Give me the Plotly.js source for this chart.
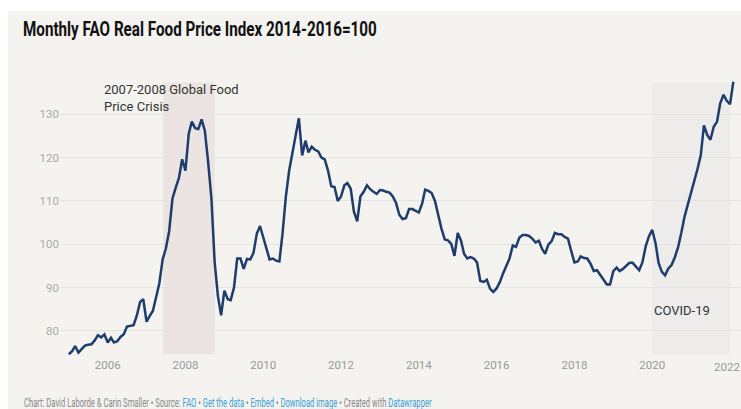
<!DOCTYPE html>
<html>
<head>
<meta charset="utf-8">
<script src="https://cdn.plot.ly/plotly-3.0.1.min.js"></script>
<style>
  html, body { margin: 0; padding: 0; background: #ffffff; }
  #bg { position: absolute; left: 8px; top: 11px; width: 733px; height: 398px; background: #f4f3f0; }
  #chart { position: absolute; left: 0; top: 0; width: 741px; height: 409px; }
</style>
</head>
<body>
<div id="bg"></div>
<div id="chart"></div>
<script>
// Monthly series, first value = January 2005, last = February 2022
const startYear = 2005;
const startMonth = 1;
const indexValues = [
  74.6, 75.3, 76.5, 75.0, 75.8, 76.6, 76.8, 76.9, 77.8, 79.0, 78.5, 79.2,
  77.3, 78.4, 77.3, 77.6, 78.6, 79.2, 81.0, 81.1, 81.3, 83.5, 86.7, 87.3,
  82.1, 83.5, 84.6, 87.8, 91.0, 96.5, 99.0, 103.0, 110.5, 113.0, 115.3, 119.6,
  117.0, 125.5, 128.3, 126.8, 126.6, 128.8, 126.2, 119.0, 110.5, 96.0, 88.0, 83.6,
  89.3, 87.3, 87.1, 90.0, 96.7, 96.7, 94.3, 96.6, 96.5, 98.0, 102.4, 104.2,
  101.5, 98.7, 96.5, 96.7, 96.2, 96.0, 102.5, 111.0, 117.0, 121.0, 125.0, 129.1,
  120.5, 123.9, 121.2, 122.5, 121.8, 121.4, 120.0, 119.6, 117.0, 113.4, 113.2, 110.0,
  111.0, 113.6, 114.1, 112.8, 107.5, 105.3, 111.0, 112.1, 113.6, 112.7, 112.1, 111.6,
  112.5, 112.4, 112.1, 111.9, 111.0, 109.5, 106.8, 105.8, 106.0, 108.1, 108.1, 107.7,
  107.3, 109.4, 112.6, 112.3, 111.8, 110.0, 106.8, 103.6, 101.1, 100.9, 100.1, 97.3,
  102.6, 100.8, 97.8, 96.7, 97.0, 96.7, 95.8, 91.5, 91.3, 91.8, 89.7, 89.0,
  89.8, 91.3, 93.2, 94.8, 96.7, 99.7, 99.4, 101.5, 102.1, 102.1, 101.9, 101.3,
  100.4, 100.8, 99.0, 97.8, 99.9, 100.7, 102.6, 102.3, 102.3, 101.7, 101.3, 98.5,
  95.8, 96.0, 97.2, 96.8, 96.7, 95.5, 93.8, 94.0, 92.8, 91.6, 90.7, 90.7,
  93.8, 94.6, 93.8, 94.3, 94.9, 95.7, 95.7, 94.8, 94.0, 95.8, 99.5, 101.8,
  103.3, 100.3, 95.7, 93.6, 92.8, 94.4, 95.2, 97.0, 99.4, 102.7, 106.5, 109.2,
  112.0, 114.5, 117.3, 120.5, 127.4, 125.2, 124.1, 127.1, 128.3, 132.5, 134.5, 133.1,
  132.3, 137.5
];
const yTicks = [80, 90, 100, 110, 120, 130];
const xTickYears = ['2006', '2008', '2010', '2012', '2014', '2016', '2018', '2020'];
const lastYearLabel = '2022';   // sits at the right edge; drawn right-aligned inside the frame
const crisisPeriod = ['2007-06-06', '2008-10-02'];
const covidPeriod = ['2019-12-28', '2022-01-01'];

const months = indexValues.map((_, i) => {
  const t = (startMonth - 1) + i;
  const y = startYear + Math.floor(t / 12);
  const m = (t % 12) + 1;
  return y + '-' + String(m).padStart(2, '0') + '-01';
});

const shadeLow = Math.min(...indexValues);
const shadeHigh = Math.max(...indexValues) - 0.2;

const tickFont = { family: 'Roboto, sans-serif', size: 11.5, color: '#999999' };

const trace = {
  type: 'scatter',
  mode: 'lines',
  x: months,
  y: indexValues,
  line: { color: '#1f3d6c', width: 2.5 },
  hoverinfo: 'skip'
};

const layout = {
  width: 741,
  height: 409,
  autosize: false,
  margin: { l: 60, r: 0, t: 80, b: 53 },
  paper_bgcolor: 'rgba(0,0,0,0)',
  plot_bgcolor: 'rgba(0,0,0,0)',
  showlegend: false,
  title: {
    text: '<b>Monthly FAO Real Food Price Index 2014-2016=100</b>',
    x: 23 / 741, xanchor: 'left', xref: 'container',
    y: 1 - 28.5 / 409, yanchor: 'middle', yref: 'container',
    font: { family: 'Roboto, sans-serif', size: 21, color: '#111111' }
  },
  xaxis: {
    type: 'date',
    range: ['2004-10-10', '2022-04-14'],
    tickvals: xTickYears.map(y => y + '-01-01'),
    ticktext: xTickYears,
    showgrid: false, zeroline: false, showline: false,
    ticks: '',
    tickfont: tickFont
  },
  yaxis: {
    range: [74.2, 137.9],
    tickvals: yTicks,
    showgrid: true, gridcolor: '#e4e3e0', gridwidth: 1,
    zeroline: false, showline: false, ticks: '',
    tickfont: { family: 'Roboto, sans-serif', size: 11.5, color: '#aaaaaa' }
  },
  shapes: [
    { type: 'rect', xref: 'x', yref: 'y', x0: crisisPeriod[0], x1: crisisPeriod[1],
      y0: shadeLow, y1: shadeHigh, fillcolor: '#ece4e2', line: { width: 0 }, layer: 'below' },
    { type: 'rect', xref: 'x', yref: 'y', x0: covidPeriod[0], x1: covidPeriod[1],
      y0: shadeLow, y1: shadeHigh, fillcolor: '#edecea', line: { width: 0 }, layer: 'below' }
  ],
  annotations: [
    { text: '2007-2008 Global Food<br>Price Crisis', xref: 'paper', yref: 'paper',
      x: (102 - 60) / 681, y: (356 - 98) / 276, xanchor: 'left', yanchor: 'middle',
      align: 'left', showarrow: false,
      font: { family: 'Roboto, sans-serif', size: 13, color: '#333333' } },
    { text: 'COVID-19', xref: 'paper', yref: 'paper',
      x: (651.5 - 60) / 681, y: (356 - 310) / 276, xanchor: 'left', yanchor: 'middle',
      align: 'left', showarrow: false,
      font: { family: 'Roboto, sans-serif', size: 13, color: '#333333' } },
    { text: lastYearLabel, xref: 'paper', yref: 'paper',
      x: 1, y: (356 - 366.5) / 276, xanchor: 'right', yanchor: 'middle',
      showarrow: false, borderpad: 0, font: tickFont },
    { text: 'Chart: David Laborde &amp; Carin Smaller • Source: <span style="color:#3b9fd4">FAO</span> • <span style="color:#3b9fd4">Get the data</span> • <span style="color:#3b9fd4">Embed</span> • <span style="color:#3b9fd4">Download image</span> • Created with <span style="color:#3b9fd4">Datawrapper</span>',
      xref: 'paper', yref: 'paper',
      x: (22 - 60) / 681, y: (356 - 402.5) / 276, xanchor: 'left', yanchor: 'middle',
      align: 'left', showarrow: false,
      font: { family: 'Roboto, sans-serif', size: 12, color: '#888888' } }
  ]
};

// Condense a text element horizontally to a target width, keeping its left edge
function condense(el, targetWidth) {
  if (!el) return;
  const bb = el.getBBox();
  if (!bb.width) return;
  const k = targetWidth / bb.width;
  el.setAttribute('transform', 'translate(' + (bb.x * (1 - k)) + ',0) scale(' + k + ',1)');
}

Plotly.newPlot('chart', [trace], layout, { displayModeBar: false, staticPlot: true }).then(gd => {
  condense(gd.querySelector('.gtitle'), 354);
  const notes = gd.querySelectorAll('.annotation-text');
  condense(notes[notes.length - 1], 408);
});
</script>
</body>
</html>
